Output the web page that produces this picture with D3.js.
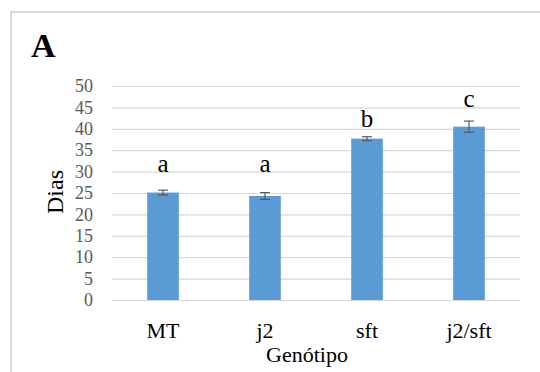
<!DOCTYPE html>
<html>
<head>
<meta charset="utf-8">
<script src="https://cdn.jsdelivr.net/npm/d3@7"></script>
<style>
  body { margin: 0; background: #fff; }
  svg text { font-family: "Liberation Serif", Times, "Times New Roman", "DejaVu Serif", serif !important; }
</style>
</head>
<body>
<div class="chart"></div>
<script>
// genotype categories, mean days, error and significance letters
var genotypes = ["MT", "j2", "sft", "j2/sft"];
var days = [25.1, 24.3, 37.7, 40.5];
var errors = [0.55, 0.8, 0.45, 1.3];
var letters = ["a", "a", "b", "c"];
var letterAt = [30, 30, 40.5, 45.1];
var yTicks = [0, 5, 10, 15, 20, 25, 30, 35, 40, 45, 50];

var svgWidth = 540;
var svgHeight = 372;

var margin = {top: 86, right: 20, bottom: 72, left: 112};
var width = 520 - margin.left;
var height = 300 - margin.top;

var svg = d3.select(".chart")
  .append("svg")
  .attr("width", svgWidth)
  .attr("height", svgHeight);

// chart frame (only top and left edges show)
svg.append("path")
  .attr("d", "M11,372 V12 H540")
  .attr("fill", "none")
  .attr("stroke", "#d9d9d9")
  .attr("stroke-width", 2);

svg.append("text")
  .attr("x", 31)
  .attr("y", 57)
  .attr("font-size", 34)
  .attr("font-weight", "bold")
  .attr("fill", "#000")
  .text("A");

var chartGroup = svg.append("g")
  .attr("transform", `translate(${margin.left}, ${margin.top})`);

var xScale = d3.scaleBand()
  .domain(genotypes)
  .range([0, width])
  .paddingInner(0.69)
  .paddingOuter(0.345);

var yScale = d3.scaleLinear()
  .domain([0, 50])
  .range([height, 0]);

// gridlines
chartGroup.append("g")
  .selectAll("line")
  .data(yTicks)
  .enter()
  .append("line")
  .attr("x1", 0)
  .attr("x2", width)
  .attr("y1", d => yScale(d) + 0.5)
  .attr("y2", d => yScale(d) + 0.5)
  .attr("stroke", "#d9d9d9")
  .attr("stroke-width", 1.2);

// y axis labels
var leftAxis = d3.axisLeft(yScale).tickValues(yTicks).tickSize(0).tickPadding(19);
var yAxis = chartGroup.append("g").call(leftAxis);
yAxis.select(".domain").remove();
yAxis.selectAll("text")
  .attr("font-size", 18)
  .attr("fill", "#595959");

// bars
chartGroup.selectAll("rect.bar")
  .data(genotypes)
  .enter()
  .append("rect")
  .attr("class", "bar")
  .attr("x", d => xScale(d))
  .attr("width", xScale.bandwidth())
  .attr("y", (d, i) => yScale(days[i]))
  .attr("height", (d, i) => height - yScale(days[i]))
  .attr("fill", "#5b9bd5");

// error bars
var errG = chartGroup.selectAll("g.err")
  .data(genotypes)
  .enter()
  .append("g")
  .attr("class", "err")
  .attr("stroke", "#595959")
  .attr("stroke-width", 1.2);

errG.append("line")
  .attr("x1", d => xScale(d) + xScale.bandwidth() / 2)
  .attr("x2", d => xScale(d) + xScale.bandwidth() / 2)
  .attr("y1", (d, i) => yScale(days[i] + errors[i]))
  .attr("y2", (d, i) => yScale(days[i] - errors[i]));

[1, -1].forEach(function(sign) {
  errG.append("line")
    .attr("x1", d => xScale(d) + xScale.bandwidth() / 2 - 5)
    .attr("x2", d => xScale(d) + xScale.bandwidth() / 2 + 5)
    .attr("y1", (d, i) => yScale(days[i] + sign * errors[i]))
    .attr("y2", (d, i) => yScale(days[i] + sign * errors[i]));
});

// significance letters
chartGroup.selectAll("text.letter")
  .data(genotypes)
  .enter()
  .append("text")
  .attr("class", "letter")
  .attr("x", d => xScale(d) + xScale.bandwidth() / 2)
  .attr("y", (d, i) => yScale(letterAt[i]))
  .attr("text-anchor", "middle")
  .attr("font-size", 25)
  .attr("fill", "#000")
  .text((d, i) => letters[i]);

// x axis
var bottomAxis = d3.axisBottom(xScale).tickSize(0).tickPadding(22);
var xAxis = chartGroup.append("g")
  .attr("transform", `translate(0, ${height})`)
  .call(bottomAxis);
xAxis.select(".domain").remove();
xAxis.selectAll("text")
  .attr("font-size", 22)
  .attr("fill", "#000");

// axis titles
chartGroup.append("text")
  .attr("x", width / 2 - 9)
  .attr("y", height + 62)
  .attr("text-anchor", "middle")
  .attr("font-size", 22)
  .attr("fill", "#000")
  .text("Genótipo");

chartGroup.append("text")
  .attr("transform", `translate(${63 - margin.left}, ${192 - margin.top}) rotate(-90)`)
  .attr("text-anchor", "middle")
  .attr("font-size", 24)
  .attr("fill", "#000")
  .text("Dias");
</script>
</body>
</html>
